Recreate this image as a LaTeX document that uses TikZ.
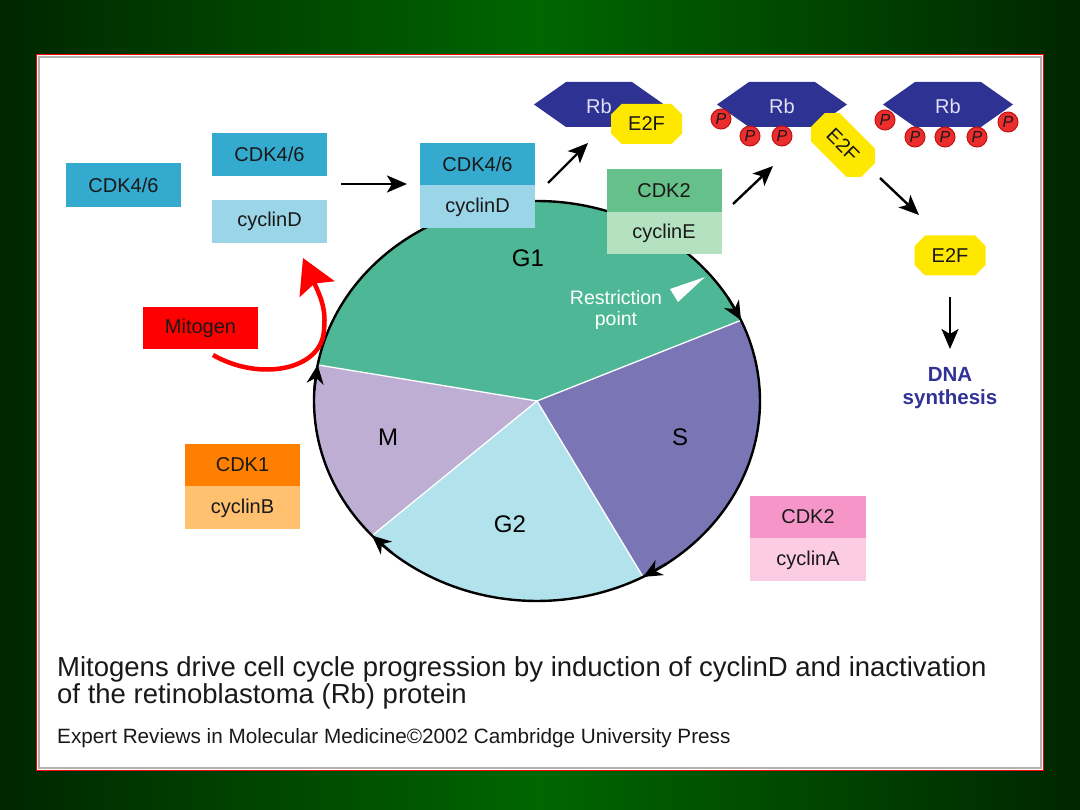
\documentclass[tikz,border=0pt]{standalone}
\usepackage{fontspec}
\setmainfont{Liberation Sans}
\usetikzlibrary{arrows.meta,shapes.misc}
\definecolor{bgdark}{RGB}{0,38,0}
\definecolor{bglight}{RGB}{0,102,0}
\definecolor{txtc}{RGB}{25,25,25}
\definecolor{cdkA}{RGB}{52,170,206}
\definecolor{cycD}{RGB}{155,213,232}
\definecolor{cdkE}{RGB}{102,192,138}
\definecolor{cycE}{RGB}{180,226,192}
\definecolor{cdkB}{RGB}{255,128,0}
\definecolor{cycB}{RGB}{255,192,112}
\definecolor{cdkP}{RGB}{246,150,200}
\definecolor{cycA}{RGB}{251,204,228}
\definecolor{mitored}{RGB}{255,0,0}
\definecolor{g1col}{RGB}{78,184,150}
\definecolor{scol}{RGB}{122,118,181}
\definecolor{g2col}{RGB}{178,226,236}
\definecolor{mcol}{RGB}{190,174,212}
\definecolor{rbblue}{RGB}{46,50,146}
\definecolor{rbtext}{RGB}{225,225,245}
\definecolor{e2fy}{RGB}{255,232,0}
\definecolor{pred}{RGB}{235,45,45}
\definecolor{pdark}{RGB}{190,20,20}
\definecolor{dnablue}{RGB}{48,50,150}
\begin{document}
\begin{tikzpicture}[x=1pt,y=-1pt,
  lbl/.style={font=\fontsize{20}{22}\selectfont, text=txtc, inner sep=0pt},
  box/.style={lbl, minimum width=115pt, minimum height=43pt},
  arr/.style={line width=2.4pt, -{Stealth[length=20pt,width=17pt,inset=5pt]}},
  circarr/.style={line width=2.4pt, -{Stealth[length=19pt,width=17pt,inset=6pt]}},
  e2f/.style={chamfered rectangle, chamfered rectangle xsep=11pt, fill=e2fy, minimum width=71pt, minimum height=40pt, lbl},
  pball/.style={circle, fill=pred, draw=pdark, line width=1pt, minimum size=20pt, inner sep=0pt, font=\fontsize{16}{16}\selectfont\itshape, text=txtc},
  phase/.style={font=\fontsize{24}{26}\selectfont, text=black, inner sep=0pt},
  sep/.style={white, line width=1.3pt},
  rbhex/.style={fill=rbblue}
]
\useasboundingbox (0,0) rectangle (1080,810);
\shade[left color=bgdark, right color=bgdark, middle color=bglight] (0,0) rectangle (1080,810);
% panel
\draw[draw=red, line width=1.6pt, fill=white] (36.5,54.5) rectangle (1043.5,770.5);
\draw[gray!60, line width=2pt] (38.8,56.8) rectangle (1041.2,768.2);

% pie
\coordinate (C) at (537,401);
\coordinate (bGS) at ({537+223*cos(23.8)},{401-200*sin(23.8)});
\coordinate (bSG) at ({537+223*cos(-61.6)},{401-200*sin(-61.6)});
\coordinate (bGM) at ({537+223*cos(222.3)},{401-200*sin(222.3)});
\coordinate (bMG) at ({537+223*cos(169.6)},{401-200*sin(169.6)});
\fill[g1col] (C) -- plot[domain=169.6:23.8, samples=80, variable=\t] ({537+223*cos(\t)},{401-200*sin(\t)}) -- cycle;
\fill[scol] (C) -- plot[domain=23.8:-61.6, samples=60, variable=\t] ({537+223*cos(\t)},{401-200*sin(\t)}) -- cycle;
\fill[g2col] (C) -- plot[domain=-61.6:-137.7, samples=60, variable=\t] ({537+223*cos(\t)},{401-200*sin(\t)}) -- cycle;
\fill[mcol] (C) -- plot[domain=222.3:169.6, samples=40, variable=\t] ({537+223*cos(\t)},{401-200*sin(\t)}) -- cycle;
\draw[sep] (C) -- (bGS);
\draw[sep] (C) -- (bSG);
\draw[sep] (C) -- (bGM);
\draw[sep] (C) -- (bMG);
\draw[line width=2.4pt] plot[domain=0:360, samples=200, variable=\t] ({537+223*cos(\t)},{401-200*sin(\t)}) -- cycle;
\draw[circarr] ({537+223*cos(31)},{401-200*sin(31)}) -- (bGS);
\draw[circarr] ({537+223*cos(-54.5)},{401-200*sin(-54.5)}) -- (bSG);
\draw[circarr] ({537+223*cos(229.5)},{401-200*sin(229.5)}) -- (bGM);
\draw[circarr] ({537+223*cos(176.8)},{401-200*sin(176.8)}) -- (bMG);

\node[phase] (G1) at (528,258) {G1};
\node[phase] (S) at (680,437) {S};
\node[phase] (G2) at (510,524) {G2};
\node[phase] (M) at (388,437) {M};
\node[font=\fontsize{19.5}{20.5}\selectfont, text=white, align=center, inner sep=0pt] (rp) at (616,310) {Restriction\\point};
\fill[white] (670,289) -- (705,277) -- (678,302) -- cycle;

% CDK boxes
\node[box, fill=cdkA, minimum height=44pt] (cdkfree) at (123.5,185) {CDK4/6};
\node[box, fill=cdkA] (cdkpair) at (269.5,154.5) {CDK4/6};
\node[box, fill=cycD] (cycDfree) at (269.5,221.5) {cyclinD};
\node[box, fill=cdkA, minimum height=42pt] (cdkC) at (477.5,164) {CDK4/6};
\node[box, fill=cycD, anchor=north] (cycDC) at (cdkC.south) {cyclinD};
\node[box, fill=cdkE, minimum height=43pt] (cdk2E) at (664,190.5) {CDK2};
\node[box, fill=cycE, minimum height=42pt, anchor=north] (cycEbox) at (cdk2E.south) {cyclinE};
\node[box, fill=cdkB, minimum height=42pt] (cdk1) at (242.5,465) {CDK1};
\node[box, fill=cycB, anchor=north] (cycBbox) at (cdk1.south) {cyclinB};
\node[box, fill=cdkP, minimum width=116pt, minimum height=42pt] (cdk2A) at (808,517) {CDK2};
\node[box, fill=cycA, minimum width=116pt, anchor=north] (cycAbox) at (cdk2A.south) {cyclinA};
\node[box, fill=mitored, minimum height=42pt] (mito) at (200.5,328) {Mitogen};

% Rb complexes
\fill[rbhex] (534,104.5) -- (566,82) -- (632,82) -- (664,104.5) -- (632,127) -- (566,127) -- cycle;
\node[lbl, text=rbtext] (rb1) at (599,106) {Rb};
\node[e2f] (e2f1) at (646.5,124) {E2F};

\fill[rbhex] (717,104.5) -- (749,82) -- (815,82) -- (847,104.5) -- (815,127) -- (749,127) -- cycle;
\node[lbl, text=rbtext] (rb2) at (782,106) {Rb};
\node[pball] (p21) at (721,119) {P};
\node[pball] (p22) at (750,136) {P};
\node[pball] (p23) at (782,136) {P};
\node[e2f, rotate=-45] (e2f2) at (843,145) {E2F};

\fill[rbhex] (883,104.5) -- (915,82) -- (981,82) -- (1013,104.5) -- (981,127) -- (915,127) -- cycle;
\node[lbl, text=rbtext] (rb3) at (948,106) {Rb};
\node[pball] (p31) at (885,120) {P};
\node[pball] (p32) at (915,137) {P};
\node[pball] (p33) at (945,137) {P};
\node[pball] (p34) at (977,137) {P};
\node[pball] (p35) at (1008,122) {P};

\node[e2f] (e2f3) at (950,255.5) {E2F};
\node[font=\bfseries\fontsize{20.5}{23}\selectfont, text=dnablue, align=center, inner sep=0pt] (dna) at (950,388) {DNA\\synthesis};

% arrows
\coordinate (a1s) at (341,184); \coordinate (a1e) at (407,184);
\coordinate (a2s) at (548,183); \coordinate (a2e) at (588,143);
\coordinate (a3s) at (733,204); \coordinate (a3e) at (773,166);
\coordinate (a4s) at (880,178); \coordinate (a4e) at (919,215);
\coordinate (a5s) at (950,297); \coordinate (a5e) at (950,349);
\draw[arr] (a1s) -- (a1e);
\draw[arr] (a2s) -- (a2e);
\draw[arr] (a3s) -- (a3e);
\draw[arr] (a4s) -- (a4e);
\draw[arr] (a5s) -- (a5e);

\coordinate (mstart) at (213,355);
\coordinate (mend) at (303,258);
\draw[mitored, line width=4.5pt, -{Stealth[length=34pt,width=38pt,inset=6pt]}] (mstart) .. controls (260,382) and (322,370) .. (324,330) .. controls (326,310) and (322,300) .. (mend);

% caption
\node[anchor=base west, inner sep=0pt, font=\fontsize{27.5}{28}\selectfont, text=txtc] (cap1) at (57,676) {Mitogens drive cell cycle progression by induction of cyclinD and inactivation};
\node[anchor=base west, inner sep=0pt, font=\fontsize{27.5}{28}\selectfont, text=txtc] (cap2) at (57,703) {of the retinoblastoma (Rb) protein};
\node[anchor=base west, inner sep=0pt, font=\fontsize{20.7}{23}\selectfont, text=txtc] (credit) at (57,743) {Expert Reviews in Molecular Medicine©2002 Cambridge University Press};
\end{tikzpicture}
\end{document}
